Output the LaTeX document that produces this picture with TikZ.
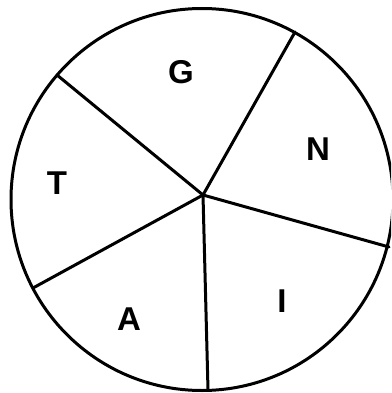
\documentclass[tikz,border=0pt]{standalone}
\usepackage{fontspec}
\setmainfont{Liberation Sans}
\begin{document}
\begin{tikzpicture}[x=1pt,y=-1pt,
  rim/.style={line width=3pt},
  spoke/.style={line width=3pt, line cap=round},
  lbl/.style={font=\fontsize{33}{33}\selectfont\bfseries, inner sep=0pt}]
\useasboundingbox (0,0) rectangle (391,393);
\clip (0,0) rectangle (391,393);
\draw[rim] (202,199.5) circle[radius=191];
\coordinate (hub) at (203,195);
\coordinate (e1) at (295,32);
\coordinate (e2) at (57,75);
\coordinate (e3) at (389,247);
\coordinate (e4) at (33,288);
\coordinate (e5) at (208,390);
\foreach \e in {e1,e2,e3,e4,e5} \draw[spoke] (hub) -- (\e);
\node[lbl] (G) at (181,72) {G};
\node[lbl] (N) at (318,149) {N};
\node[lbl] (T) at (57,183) {T};
\node[lbl] (A) at (129,319) {A};
\node[lbl] (I) at (282,301) {I};
\end{tikzpicture}
\end{document}
